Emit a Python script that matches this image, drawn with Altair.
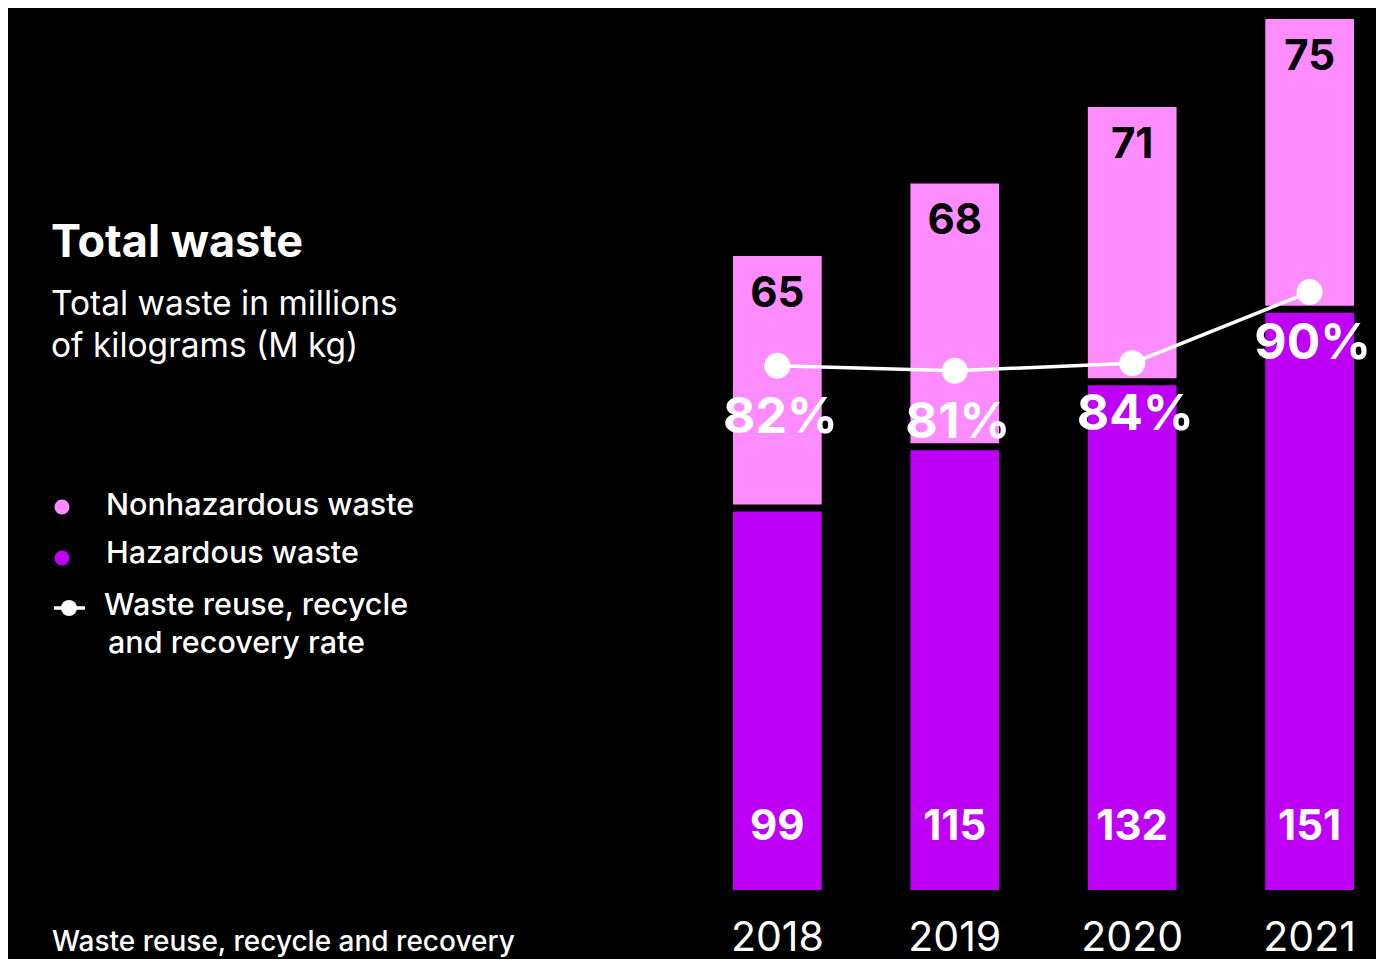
import altair as alt
import pandas as pd

# ---- data -------------------------------------------------------------
years = ["2018", "2019", "2020", "2021"]
hazardous = [99, 115, 132, 151]          # M kg
nonhazardous = [65, 68, 71, 75]          # M kg
rate_pct = [82, 81, 84, 90]              # reuse / recycle / recovery rate, %
# vertical placement of the rate markers, expressed in the chart's M kg units
rate_marker_level = [137.1, 135.8, 137.8, 156.4]

PINK = "#FF8CFF"
PURPLE = "#BE00F6"
FONT = "Inter"

df = pd.DataFrame({
    "year": years,
    "haz": hazardous,
    "nonhaz": nonhazardous,
    "rate": rate_pct,
    "level": rate_marker_level,
})
df["total"] = df["haz"] + df["nonhaz"]
df["rate_label"] = df["rate"].astype(str) + "%"

dummy = pd.DataFrame({"k": [0]})

PLOT_W = 1368
PLOT_H = 882
PX_PER_UNIT = 3.823

x = alt.X(
    "year:N",
    sort=years,
    scale=alt.Scale(range=[725, 1346], paddingInner=0.5, paddingOuter=0),
    axis=alt.Axis(
        title=None, orient="bottom", domain=False, ticks=False, tickSize=0,
        grid=False, labelPadding=28, labelFont=FONT, labelFontSize=41,
        labelColor="white", labelAngle=0, labelBaseline="top",
    ),
)
yscale = alt.Scale(domain=[0, PLOT_H / PX_PER_UNIT], nice=False, zero=True)

base = alt.Chart(df)

haz_bar = base.mark_bar(color=PURPLE).encode(
    x=x, y=alt.Y("haz:Q", scale=yscale, axis=None)
)
nonhaz_bar = base.mark_bar(color=PINK, yOffset=-7, y2Offset=-7).encode(
    x=x, y=alt.Y("total:Q", scale=yscale, axis=None), y2="haz:Q"
)
rate_line = base.mark_line(color="white", strokeWidth=3.5).encode(
    x=x, y=alt.Y("level:Q", scale=yscale, axis=None)
)
rate_pts = base.mark_point(filled=True, shape="circle", size=676, color="white", opacity=1).encode(
    x=x, y=alt.Y("level:Q", scale=yscale, axis=None)
)
rate_txt = base.mark_text(
    font=FONT, fontSize=50, fontWeight="bold", color="white", baseline="alphabetic", dy=67, dx=3
).encode(x=x, y=alt.Y("level:Q", scale=yscale, axis=None), text="rate_label:N")
nonhaz_txt = base.mark_text(
    font=FONT, fontSize=42, fontWeight="bold", color="black", baseline="alphabetic", dy=44
).encode(x=x, y=alt.Y("total:Q", scale=yscale, axis=None), text="nonhaz:Q")
haz_txt = base.mark_text(
    font=FONT, fontSize=42, fontWeight="bold", color="white", baseline="alphabetic", dy=-50
).encode(x=x, y=alt.datum(0, scale=yscale), text="haz:Q")


def label(text, px, py, size, weight="normal", **kw):
    return alt.Chart(dummy).mark_text(
        text=text, font=FONT, fontSize=size, fontWeight=weight, color="white",
        align="left", baseline="alphabetic", **kw
    ).encode(x=alt.value(px), y=alt.value(py))


title = label("Total waste", 43, 249, 45, "bold")
subtitle = label(["Total waste in millions", "of kilograms (M kg)"], 43, 307, 33.5, lineHeight=42)
leg1 = label("Nonhazardous waste", 98, 507, 30.5, 500)
leg2 = label("Hazardous waste", 98, 555, 30.5, 500)
leg3 = label("Waste reuse, recycle", 96, 607, 30.5, 500)
leg3b = label("and recovery rate", 100, 645, 30.5, 500)
foot = label("Waste reuse, recycle and recovery", 44, 943, 28, 500)

dot1 = alt.Chart(dummy).mark_point(filled=True, shape="circle", size=225, color=PINK, opacity=1).encode(
    x=alt.value(54), y=alt.value(499)
)
dot2 = alt.Chart(dummy).mark_point(filled=True, shape="circle", size=225, color=PURPLE, opacity=1).encode(
    x=alt.value(54), y=alt.value(550)
)
leg_rule = alt.Chart(dummy).mark_rule(color="white", strokeWidth=3.5).encode(
    x=alt.value(46), x2=alt.value(77), y=alt.value(600)
)
leg_dot = alt.Chart(dummy).mark_point(filled=True, shape="circle", size=256, color="white", opacity=1).encode(
    x=alt.value(61), y=alt.value(600)
)

chart = alt.layer(
    haz_bar, nonhaz_bar, rate_line, rate_pts, rate_txt, nonhaz_txt, haz_txt,
    title, subtitle, leg1, leg2, leg3, leg3b, foot, dot1, dot2, leg_rule, leg_dot,
).properties(
    width=PLOT_W,
    height=PLOT_H,
    background="black",
    padding={"left": 0, "top": 0, "right": 0, "bottom": 69},
    autosize=alt.AutoSizeParams(type="none"),
).configure_view(stroke=None)

chart.save("out.html", embed_options={"renderer": "svg", "actions": False})
